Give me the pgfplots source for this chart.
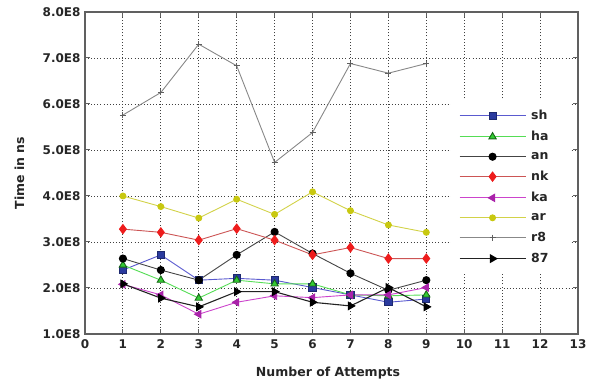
\documentclass[border=0pt]{standalone}
\usepackage{pgfplots}
\pgfplotsset{compat=1.18}
\usepackage{fontspec}
\setmainfont{DejaVu Sans}
\definecolor{shline}{HTML}{5A5ACF}
\definecolor{shmark}{HTML}{2A3A9E}
\definecolor{haline}{HTML}{55DD55}
\definecolor{hamark}{HTML}{33CC33}
\definecolor{anline}{HTML}{444444}
\definecolor{nkline}{HTML}{CC5555}
\definecolor{nkmark}{HTML}{EE1C1C}
\definecolor{kaline}{HTML}{CC44CC}
\definecolor{kamark}{HTML}{AA22AA}
\definecolor{arline}{HTML}{D2D248}
\definecolor{armark}{HTML}{C8C810}
\definecolor{r8line}{HTML}{888888}
\definecolor{seline}{HTML}{222222}
\definecolor{frame}{HTML}{606060}
\newcommand{\lt}[1]{\makebox[30pt][l]{#1}}
\begin{document}
\begin{tikzpicture}
\path[use as bounding box] (0,0) rectangle (592pt,382pt);
\begin{axis}[
  at={(85pt,48pt)}, anchor=south west,
  width=493pt, height=322pt, scale only axis,
  xmin=0, xmax=13, ymin=1e8, ymax=8e8,
  xtick={0,1,2,3,4,5,6,7,8,9,10,11,12,13},
  ytick={1e8,2e8,3e8,4e8,5e8,6e8,7e8,8e8},
  yticklabels={1.0E8,2.0E8,3.0E8,4.0E8,5.0E8,6.0E8,7.0E8,8.0E8},
  scaled y ticks=false,
  /pgf/number format/assume math mode=true,
  grid=major,
  major grid style={black!75, line width=0.9pt, dash pattern=on 0.9pt off 2.2pt},
  axis line style={frame, line width=1.5pt},
  tick align=inside, major tick length=5pt,
  tick style={frame, line width=1pt},
  ticklabel style={font=\fontsize{12}{14}\selectfont\bfseries, text=black!85},
  xticklabel style={yshift=-2pt},
  yticklabel style={xshift=-1pt},
  xlabel={Number of Attempts}, ylabel={Time in ns},
  label style={font=\fontsize{12.5}{14}\selectfont\bfseries, text=black!85},
  xlabel style={at={(axis description cs:0.493,-0.121)}, anchor=center},
  ylabel style={at={(axis description cs:-0.133,0.5)}, anchor=center},
  legend style={at={(rel axis cs:0.742,0.724)}, anchor=north west, draw=none, fill=white,
    font=\fontsize{12.5}{14}\selectfont\bfseries, text=black!85,
    row sep=6.2pt, column sep=3pt, inner xsep=8pt, inner ysep=7pt},
  legend cell align=left,
  legend image code/.code={\draw[mark repeat=2,mark phase=2] plot coordinates {(0pt,0pt) (33pt,0pt) (66pt,0pt)};},
]
\addplot[shline, line width=0.9pt, mark=square*, mark size=3.6pt, mark options={fill=shmark, draw=shmark!70!black, solid}]
coordinates {(1,2.39e8)(2,2.72e8)(3,2.17e8)(4,2.21e8)(5,2.17e8)(6,2.01e8)(7,1.85e8)(8,1.69e8)(9,1.76e8)};
\addlegendentry{\lt{sh}}
\addplot[haline, line width=0.9pt, mark=triangle*, mark size=4.2pt, mark options={fill=hamark, draw=hamark!50!black, solid}]
coordinates {(1,2.50e8)(2,2.17e8)(3,1.78e8)(4,2.17e8)(5,2.09e8)(6,2.09e8)(7,1.85e8)(8,1.83e8)(9,1.85e8)};
\addlegendentry{\lt{ha}}
\addplot[anline, line width=0.9pt, mark=*, mark size=3.6pt, mark options={fill=black, draw=black, solid}]
coordinates {(1,2.64e8)(2,2.39e8)(3,2.17e8)(4,2.72e8)(5,3.22e8)(6,2.75e8)(7,2.32e8)(8,1.95e8)(9,2.17e8)};
\addlegendentry{\lt{an}}
\addplot[nkline, line width=0.9pt, mark=diamond*, mark size=4.6pt, mark options={fill=nkmark, draw=nkmark, solid}]
coordinates {(1,3.28e8)(2,3.21e8)(3,3.04e8)(4,3.29e8)(5,3.04e8)(6,2.72e8)(7,2.88e8)(8,2.64e8)(9,2.64e8)};
\addlegendentry{\lt{nk}}
\addplot[kaline, line width=0.9pt, mark=triangle*, mark size=4.2pt, mark options={fill=kamark, draw=kamark, rotate=90, solid}]
coordinates {(1,2.08e8)(2,1.85e8)(3,1.43e8)(4,1.69e8)(5,1.83e8)(6,1.79e8)(7,1.85e8)(8,1.85e8)(9,2.01e8)};
\addlegendentry{\lt{ka}}
\addplot[arline, line width=0.9pt, mark=*, mark size=3pt, mark options={fill=armark, draw=armark, solid}]
coordinates {(1,4.00e8)(2,3.77e8)(3,3.52e8)(4,3.93e8)(5,3.60e8)(6,4.09e8)(7,3.68e8)(8,3.37e8)(9,3.21e8)};
\addlegendentry{\lt{ar}}
\addplot[r8line, line width=0.9pt, mark=+, mark size=3pt, mark options={draw=r8line!70!black, line width=0.9pt, solid}]
coordinates {(1,5.76e8)(2,6.25e8)(3,7.30e8)(4,6.83e8)(5,4.73e8)(6,5.38e8)(7,6.88e8)(8,6.67e8)(9,6.88e8)};
\addlegendentry{\lt{r8}}
\addplot[seline, line width=1.1pt, mark=triangle*, mark size=4.2pt, mark options={fill=black, draw=black, rotate=-90, solid}]
coordinates {(1,2.09e8)(2,1.78e8)(3,1.59e8)(4,1.92e8)(5,1.92e8)(6,1.69e8)(7,1.61e8)(8,2.01e8)(9,1.59e8)};
\addlegendentry{\lt{87}}
\end{axis}
\end{tikzpicture}
\end{document}
